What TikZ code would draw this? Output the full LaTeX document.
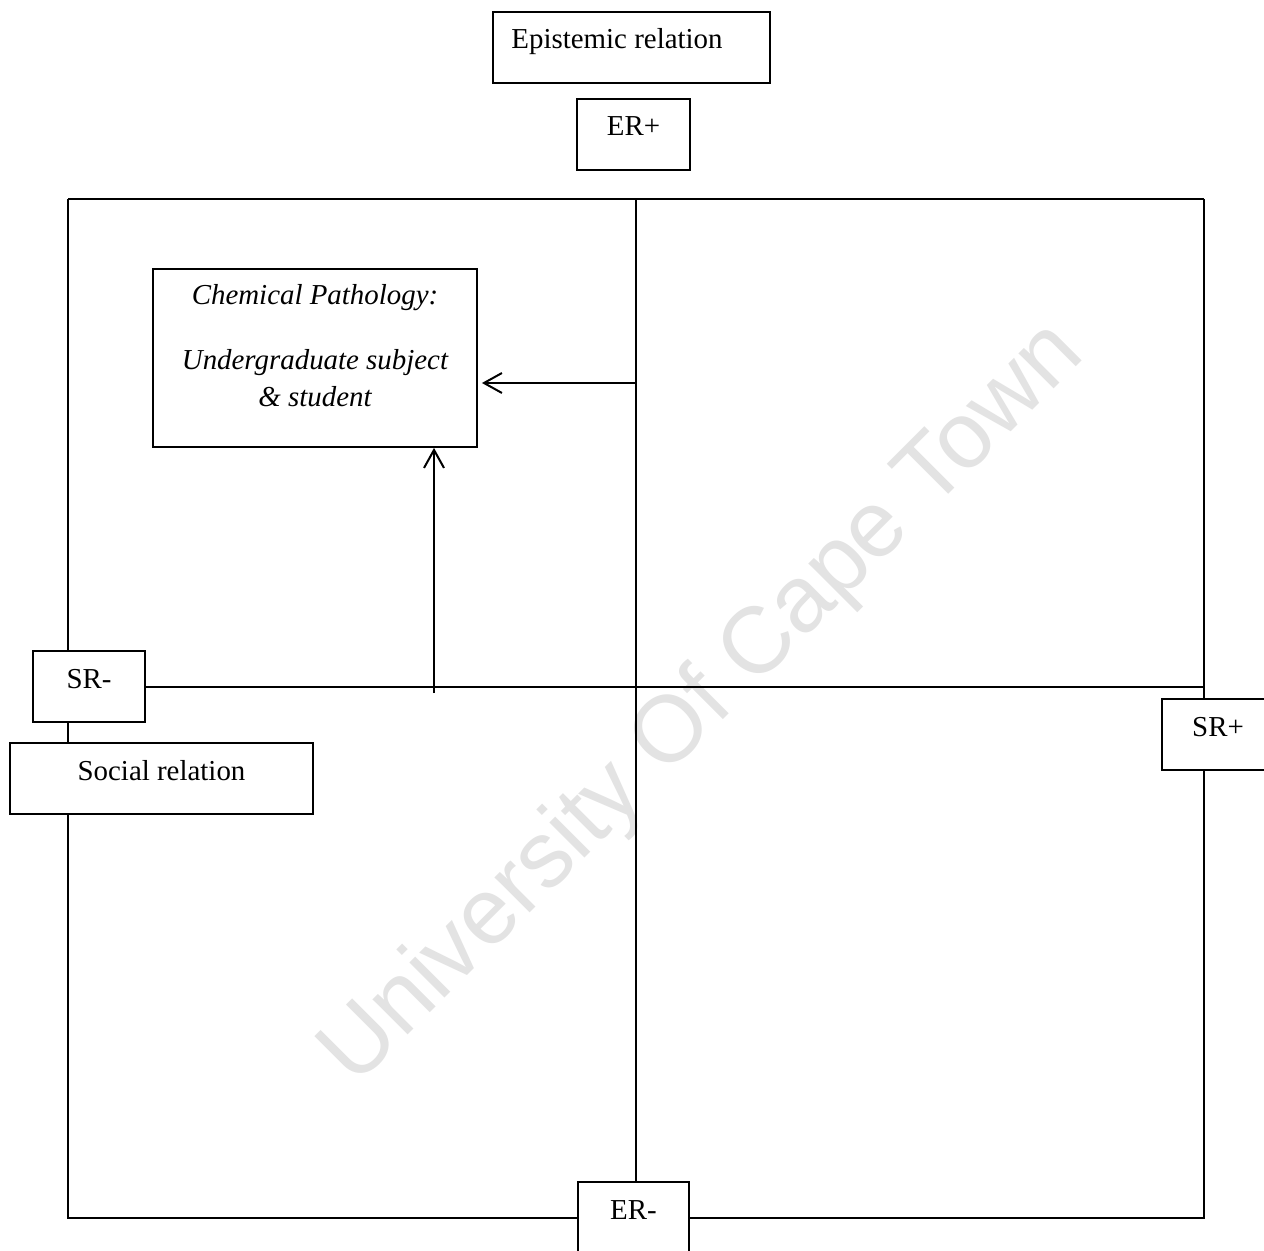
\documentclass[tikz,border=0pt]{standalone}
\usepackage{fontspec}
\setmainfont{Liberation Serif}
\newfontfamily\wmsans{Liberation Sans}
\usetikzlibrary{arrows.meta}
\definecolor{wmgray}{RGB}{227,227,227}
\newcommand\wfont{\fontsize{14.45}{18.5}\selectfont}
\tikzset{
  wbox/.style={draw, line width=0.9pt, inner sep=0pt, text height=18.5pt, text depth=17pt,
               minimum width=#1, anchor=base, font=\wfont},
  itext/.style={inner sep=0pt, anchor=base, font=\wfont\itshape},
  frameline/.style={line width=1pt},
  arr/.style={line width=1pt, -{Straight Barb[length=9pt,width=10pt]}},
}
\begin{document}
\begin{tikzpicture}[x=0.5pt,y=-0.5pt]
\clip (0,0) rectangle (1264,1251);
\fill[white] (0,0) rectangle (1264,1251);
% watermark
\node[inner sep=0pt, anchor=base west, rotate=45, text=wmgray,
      font=\wmsans\fontsize{47}{50}\selectfont] (wmark) at (355,1088) {University Of Cape Town};
% boxes
\node[wbox=138.5pt] (epi) at (631.5,49) {Epistemic relation\hspace*{14.5pt}};
\node[wbox=56.5pt] (erp) at (633.5,136) {ER+};
\node[wbox=56pt] (srm) at (89,688) {SR-};
\node[wbox=151.5pt] (soc) at (161.5,780) {Social relation};
\node[wbox=56pt] (srp) at (1218,736) {SR+};
\node[wbox=55.5pt] (erm) at (633.5,1219) {ER-};
% chemical pathology box
\node[draw, line width=0.9pt, minimum width=162pt, minimum height=89pt, inner sep=0pt] (chem) at (315,358) {};
\node[itext] (chem1) at (315,305) {Chemical Pathology:};
\node[itext] (chem2) at (315,370) {Undergraduate subject};
\node[itext] (chem3) at (315,407) {\& student};
% frame
\draw[frameline] (68,199) -- (1204,199);
\draw[frameline] (68,199) -- (68,0 |- srm.north);
\draw[frameline] (68,0 |- srm.south) -- (68,0 |- soc.north);
\draw[frameline] (68,0 |- soc.south) -- (68,1218) -- (68,1218 -| erm.west);
\draw[frameline] (erm.east |- 0,1218) -- (1204,1218) -- (1204,0 |- srp.south);
\draw[frameline] (1204,199) -- (1204,0 |- srp.north);
\draw[frameline] (636,199) -- (636,0 |- erm.north);
\draw[frameline] (srm.east) -- (srm.east -| 1204,0);
% arrows
\coordinate (hstart) at (636,383);
\draw[arr, shorten >=2pt] (hstart) -- (chem.east |- hstart);
\coordinate (vstart) at (434,693);
\draw[arr] (vstart) -- (vstart |- chem.south);
\end{tikzpicture}
\end{document}
